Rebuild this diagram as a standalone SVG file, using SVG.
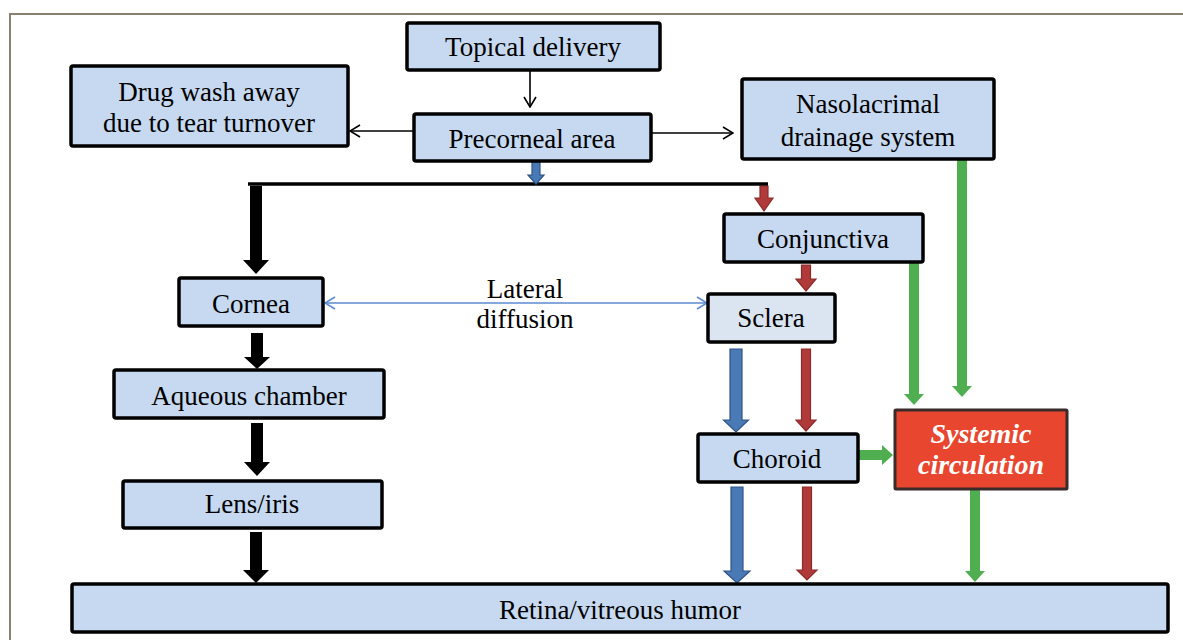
<svg xmlns="http://www.w3.org/2000/svg" width="1183" height="640" viewBox="0 0 1183 640">
<defs>
<style>
.box{fill:#c6d9f0;stroke:#000;stroke-width:3.5}
.lt{font-family:"Liberation Serif","Times New Roman",serif;font-size:27px;fill:#000;text-anchor:middle}
.sys{font-family:"Liberation Serif","Times New Roman",serif;font-size:28px;font-weight:bold;font-style:italic;fill:#fff;text-anchor:middle}
.thin{stroke:#000;stroke-width:1.6;fill:none}
.blk{fill:#000}
.blu{fill:#4a7ab5;stroke:#2f5487;stroke-width:1.2}
.red{fill:#b03a3a;stroke:#8c2a2a;stroke-width:1.2}
.grn{fill:#4fae50}
</style>
<marker id="oa" viewBox="0 0 12 14" refX="11" refY="7" markerWidth="12" markerHeight="14" markerUnits="userSpaceOnUse" orient="auto-start-reverse">
<path d="M1,1 L11,7 L1,13" fill="none" stroke="#000" stroke-width="1.6"/>
</marker>
<marker id="ob" viewBox="0 0 12 14" refX="11" refY="7" markerWidth="12" markerHeight="14" markerUnits="userSpaceOnUse" orient="auto-start-reverse">
<path d="M1,1 L11,7 L1,13" fill="none" stroke="#5b8bd0" stroke-width="1.6"/>
</marker>
</defs>
<rect width="1183" height="640" fill="#fff"/>
<path d="M10,640 L10,14 L1183,14" fill="none" stroke="#8a8070" stroke-width="2"/>

<g id="connectors">
<line class="thin" x1="530" y1="70" x2="530" y2="107" marker-end="url(#oa)"/>
<line class="thin" x1="413" y1="131" x2="350" y2="131" marker-end="url(#oa)"/>
<line class="thin" x1="652" y1="133" x2="733" y2="133" marker-end="url(#oa)"/>
<line x1="325" y1="303" x2="707" y2="303" stroke="#5b8bd0" stroke-width="1.6" marker-start="url(#ob)" marker-end="url(#ob)"/>
<polygon class="red" points="760,186 768,186 768,198 773,198 764,211 755,198 760,198"/>
<line x1="248" y1="184" x2="768" y2="184" stroke="#000" stroke-width="3.5"/>
<polygon class="blu" points="532,162 540,162 540,175 544,175 536,184 528,175 532,175"/>
<polygon class="blk" points="250,186 262,186 262,260 269,260 256,274 243,260 250,260"/>
<polygon class="blk" points="251,333 263,333 263,357 270,357 257,369 244,357 251,357"/>
<polygon class="blk" points="251,423 263,423 263,462 270,462 257,476 244,462 251,462"/>
<polygon class="blk" points="250,532 262,532 262,570 269,570 256,583 243,570 250,570"/>
<polygon class="red" points="801.5,265 810.5,265 810.5,279 816,279 806,291 796,279 801.5,279"/>
<polygon class="blu" points="730,349 742,349 742,420 748.5,420 736,432 723.5,420 730,420"/>
<polygon class="red" points="801.5,349 810.5,349 810.5,420 816,420 806,431 796,420 801.5,420"/>
<polygon class="blu" points="731,487 743,487 743,571 750,571 737,583 724,571 731,571"/>
<polygon class="red" points="802.5,487 811.5,487 811.5,570 817,570 807,580 797,570 802.5,570"/>
<polygon class="grn" points="909,263 919,263 919,394 924,394 914,405 904,394 909,394"/>
<polygon class="grn" points="957,160 967,160 967,386 972,386 962,397 952,386 957,386"/>
<polygon class="grn" points="859,450 882,450 882,445 893,455 882,465 882,460 859,460"/>
<polygon class="grn" points="970,490 980,490 980,571 985,571 975,582 965,571 970,571"/>
<text class="lt" x="525" y="298">Lateral</text>
<text class="lt" x="525" y="328">diffusion</text>
</g>

<g id="topical"><rect class="box" x="407" y="23" width="253" height="47" rx="2"/><text class="lt" x="533" y="56">Topical delivery</text></g>
<g id="drugwash"><rect class="box" x="71" y="66" width="277" height="80" rx="2"/><text class="lt" x="209" y="101">Drug wash away</text><text class="lt" x="209" y="132">due to tear turnover</text></g>
<g id="precorneal"><rect class="box" x="414" y="114" width="237" height="47" rx="2"/><text class="lt" x="532" y="148">Precorneal area</text></g>
<g id="nasolacrimal"><rect class="box" x="742" y="79" width="252" height="80" rx="2"/><text class="lt" x="868" y="113">Nasolacrimal</text><text class="lt" x="868" y="146">drainage system</text></g>
<g id="conjunctiva"><rect class="box" x="724" y="214" width="199" height="48" rx="2"/><text class="lt" x="823" y="248">Conjunctiva</text></g>
<g id="sclera"><rect class="box" x="708" y="294" width="127" height="48" rx="2" style="fill:#dbe5f1"/><text class="lt" x="771" y="327">Sclera</text></g>
<g id="cornea"><rect class="box" x="179" y="278" width="144" height="48" rx="2"/><text class="lt" x="251" y="313">Cornea</text></g>
<g id="aqueous"><rect class="box" x="114" y="370" width="270" height="48" rx="2"/><text class="lt" x="249" y="405">Aqueous chamber</text></g>
<g id="lens"><rect class="box" x="123" y="481" width="259" height="47" rx="2"/><text class="lt" x="252" y="513">Lens/iris</text></g>
<g id="choroid"><rect class="box" x="698" y="434" width="160" height="48" rx="2"/><text class="lt" x="777" y="468">Choroid</text></g>
<g id="systemic"><rect x="895" y="410" width="172" height="79" rx="1" fill="#e8462e" stroke="#3a2a2a" stroke-width="3"/><text class="sys" x="981" y="443">Systemic</text><text class="sys" x="981" y="474">circulation</text></g>
<g id="retina"><rect class="box" x="72" y="584" width="1096" height="48" rx="2"/><text class="lt" x="620" y="619">Retina/vitreous humor</text></g>
</svg>
